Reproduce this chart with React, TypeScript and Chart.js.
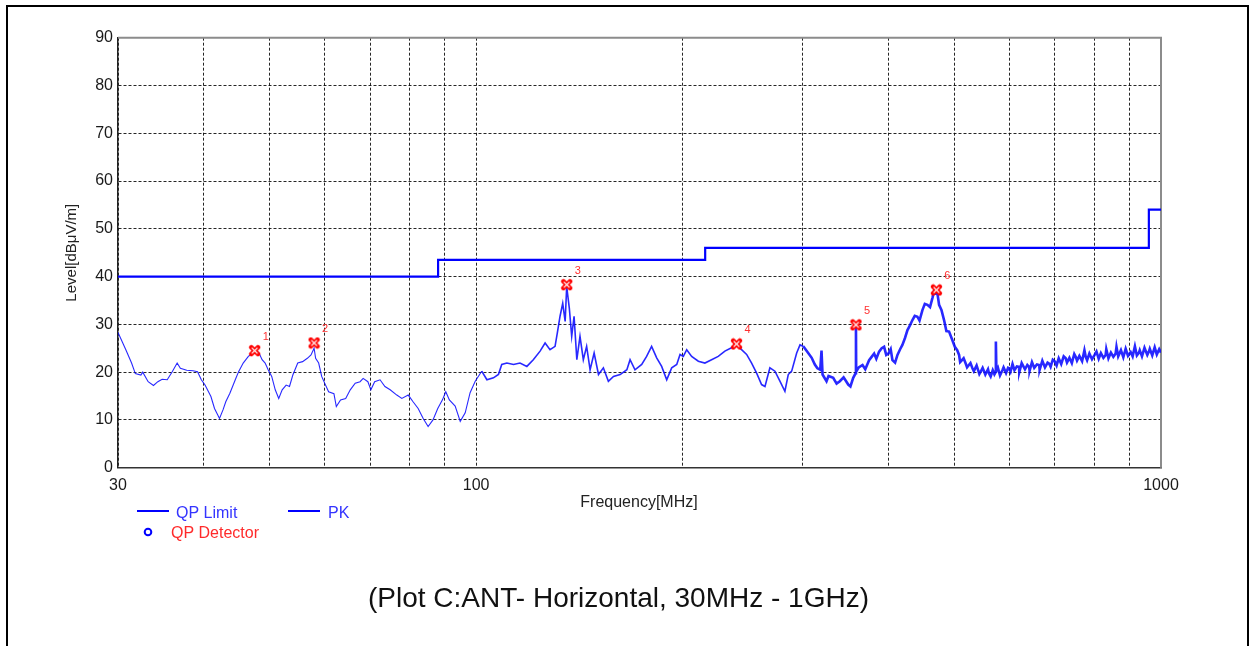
import React, { useEffect, useRef } from "react";
import { Chart, registerables } from "chart.js";

Chart.register(...registerables);

const FONT = "'Liberation Sans', Arial, sans-serif";

// Limit line (QP Limit), stepped
const LIMIT_FREQ = [30, 88, 216, 960, 1000];
const LIMIT_LEVEL = [40, 43.5, 46, 54, 54];

// Peak trace (PK) main readings
const PK_FREQ = [
  30.0, 30.8, 31.4, 31.8, 32.4, 32.6, 33.2, 33.8, 34.3, 34.8, 35.4, 36.0, 36.6, 37.0, 37.8, 38.6, 39.2, 39.7,
  40.2, 41.0, 41.5, 42.2, 42.7, 43.1, 43.7, 44.5, 45.0, 45.7, 46.5, 47.2, 47.7, 48.2, 48.7, 49.2, 49.7,
  50.3, 50.9, 51.5, 52.1, 52.8, 53.4, 54.0, 54.9, 55.8, 56.7, 57.4, 58.0, 58.3, 58.9, 59.5,
  60.1, 60.9, 62.0, 62.5, 63.4, 64.5, 65.5, 66.6, 67.7, 68.4, 69.5, 70.2, 71.1, 72.4, 73.6, 74.9,
  76.6, 77.9, 79.6, 80.9, 82.3, 83.7, 85.1, 86.5, 87.9, 89.3, 90.3, 91.4, 93.2, 94.8, 96.4, 98.0, 99.7,
  101.9, 103.7, 106.0, 107.8, 109.0, 110.9, 113.4, 115.9, 118.6, 121.2, 124.0, 126.1, 128.2, 130.4,
  131.4, 132.6, 133.8, 134.9, 135.6, 136.8, 137.9, 139.0, 140.3, 141.8, 143.4, 145.0, 146.7, 148.7,
  150.9, 153.4, 156.0, 158.7, 162.3, 166.0, 167.8, 170.6, 174.5, 177.4, 180.4, 183.5, 186.6, 189.8,
  193.0, 196.3, 198.5, 200.7, 203.0, 206.4, 211.1, 215.8, 220.7, 225.7, 230.8, 236.0, 240.0, 244.1,
  248.3, 252.5, 256.8, 261.1, 264.1, 268.5, 273.1, 277.7, 282.4, 285.6, 288.9, 293.8, 297.1, 300.4,
  305.4, 312.3, 318.0, 319.4, 320.5, 324.8, 332.2, 339.7, 349.4, 355.3, 358.3, 358.6, 358.9, 366.6,
  374.8, 381.2, 387.6, 394.2, 400.0, 405.4, 412.3, 419.2, 426.4, 433.6, 440.9, 448.4, 456.0, 463.7,
  468.9, 471.0, 474.2, 482.2, 490.4, 500.0, 507.2, 518.6, 530.5, 545.5, 561.0, 573.0, 574.0, 575.0,
  586.7, 600.0, 620.5, 641.7, 663.8, 686.5, 700.0, 725.9, 750.7, 776.4, 800.0, 830.2, 858.6, 900.0,
  928.6, 960.1, 1000,
];
const PK_LEVEL = [
  28.3, 24.7, 21.9, 19.7, 19.4, 20.0, 18.0, 17.2, 18.0, 18.5, 18.4, 20.1, 21.9, 20.8, 20.4, 20.3, 20.1, 18.4,
  17.3, 14.9, 12.4, 10.3, 12.1, 13.8, 15.6, 18.4, 20.1, 21.9, 23.3, 24.0, 24.5, 24.0, 22.6, 21.9, 20.5,
  19.1, 16.3, 14.5, 16.3, 17.3, 17.0, 19.4, 21.9, 22.2, 22.9, 23.6, 25.0, 22.9, 21.9, 19.1,
  17.7, 15.9, 15.5, 12.8, 14.2, 14.5, 16.3, 17.7, 18.0, 18.7, 18.0, 16.3, 18.0, 18.4, 17.0, 16.3,
  15.2, 14.5, 15.2, 13.8, 12.4, 10.3, 8.6, 10.0, 12.4, 14.2, 15.9, 14.2, 12.9, 9.7, 11.5, 15.7, 18.1,
  20.2, 18.4, 18.8, 19.5, 21.6, 21.9, 21.6, 21.9, 21.2, 22.6, 24.4, 26.1, 24.7, 25.4,
  28.2, 31.7, 34.4, 30.6, 37.9, 33.4, 27.5, 31.7, 22.6, 27.5, 22.6, 25.4, 20.5, 24.0,
  19.5, 20.9, 18.1, 19.1, 19.5, 20.5, 22.6, 20.5, 21.6, 23.3, 25.4, 23.0, 21.2, 18.4,
  20.9, 21.6, 23.7, 23.3, 24.7, 23.3, 22.3, 21.9, 22.6, 23.3, 24.4, 25.1, 25.7, 24.7,
  23.7, 21.9, 19.8, 17.4, 17.0, 20.9, 20.2, 18.1, 16.0, 19.5, 20.2, 24.0, 25.7, 25.4,
  24.0, 21.6, 20.5, 24.5, 19.5, 18.1, 18.8, 18.1, 17.4, 18.8, 19.8, 29.6, 20.1, 21.5,
  22.5, 23.9, 24.3, 25.3, 23.9, 22.5, 23.6, 25.7, 28.8, 30.9, 31.6, 33.0, 34.1, 35.5,
  36.5, 37.0, 34.1, 30.9, 28.5, 25.3, 23.6, 21.8, 20.8, 20.1, 19.7, 20.1, 26.4, 20.3,
  20.4, 20.8, 21.1, 21.1, 21.5, 21.8, 22.2, 22.9, 23.2, 23.2, 23.6, 23.6, 23.9, 23.9,
  24.1, 24.3, 24.1,
];

// Extra readings of the noisy band (300 MHz – 1 GHz)
const PK_DETAIL_FREQ = [
  309, 315, 327, 336, 344, 352, 362, 370, 378, 384, 391, 397,
  403, 409, 416, 423, 430, 437, 444, 452, 460, 466, 478, 486, 495,
  504, 509, 515, 521, 527, 533, 538, 543, 549, 554, 559, 564, 568, 571, 578, 582, 589, 594, 598,
  603, 607, 611, 616, 621, 626, 633, 638, 643, 648, 653, 659, 665, 671, 677, 683, 690, 695,
  704, 709, 715, 721, 729, 735, 741, 747, 754, 760, 767, 773, 780, 786, 793,
  805, 811, 817, 824, 832, 838, 845, 852, 861, 866, 874, 881, 888, 895, 903, 909, 916, 922, 931, 938,
  946, 955, 963, 971, 979, 986, 994,
];
const PK_DETAIL_LEVEL = [
  23.0, 20.8, 19.2, 17.6, 18.9, 17.0, 21.0, 20.6, 23.2, 22.8, 25.0, 23.6,
  24.8, 22.0, 24.8, 27.2, 29.8, 31.8, 30.8, 34.3, 33.6, 36.8, 33.0, 28.6, 27.0,
  24.6, 22.1, 22.9, 21.0, 21.9, 20.2, 21.4, 19.6, 20.9, 19.5, 20.6, 19.1, 20.4, 19.6, 20.9, 19.3, 21.0, 19.8, 20.9,
  20.1, 21.7, 20.4, 21.2, 20.0, 21.9, 20.6, 21.5, 20.3, 22.1, 20.9, 21.6, 20.5, 22.4, 21.0, 22.0, 21.1, 22.6,
  21.4, 22.9, 21.7, 23.3, 22.0, 23.0, 21.9, 23.8, 22.4, 23.4, 22.3, 24.6, 22.5, 23.9, 22.7,
  24.3, 22.8, 24.0, 23.0, 24.8, 22.9, 24.1, 23.2, 25.3, 23.3, 24.6, 23.1, 24.9, 23.4, 24.2, 23.3, 25.4, 23.5, 24.6, 23.3,
  25.1, 23.6, 24.9, 23.5, 25.2, 23.7, 24.8,
];

// Marked peaks (QP detector markers)
const MARKER_FREQ = [47.5, 58.0, 135.6, 240.0, 358.6, 470.0];
const MARKER_LEVEL = [24.5, 26.1, 38.3, 25.9, 29.9, 37.2];
const MARKER_LABELS = ["1", "2", "3", "4", "5", "6"];

// Axis ticks
const X_GRID = [30, 40, 50, 60, 70, 80, 90, 100, 200, 300, 400, 500, 600, 700, 800, 900, 1000];
const X_LABELED = [30, 100, 1000];
const Y_MIN = 0;
const Y_MAX = 90;
const Y_STEP = 10;

const X_TITLE = "Frequency[MHz]";
const Y_TITLE = "Level[dBμV/m]";
const CAPTION = "(Plot C:ANT- Horizontal, 30MHz - 1GHz)";
const LEGEND_LIMIT = "QP Limit";
const LEGEND_PK = "PK";
const LEGEND_QP = "QP Detector";

function makeMarkerImage(): HTMLCanvasElement {
  const mk = document.createElement("canvas");
  mk.width = 13;
  mk.height = 13;
  const c = mk.getContext("2d")!;
  c.strokeStyle = "#ff0000";
  c.lineWidth = 4.6;
  c.lineCap = "round";
  c.beginPath();
  c.moveTo(3.2, 3.2);
  c.lineTo(9.8, 9.8);
  c.moveTo(9.8, 3.2);
  c.lineTo(3.2, 9.8);
  c.stroke();
  c.strokeStyle = "#ffffff";
  c.lineWidth = 1.3;
  c.lineCap = "butt";
  c.beginPath();
  c.moveTo(3.6, 3.6);
  c.lineTo(9.4, 9.4);
  c.moveTo(9.4, 3.6);
  c.lineTo(3.6, 9.4);
  c.stroke();
  return mk;
}

export default function App() {
  const ref = useRef<HTMLCanvasElement>(null);

  useEffect(() => {
    const canvas = ref.current!;
    Chart.defaults.font.family = FONT;

    const pkPoints = PK_FREQ.map((f, i) => ({ x: f, y: PK_LEVEL[i] }))
      .concat(PK_DETAIL_FREQ.map((f, i) => ({ x: f, y: PK_DETAIL_LEVEL[i] })))
      .sort((a, b) => a.x - b.x);
    const limitPoints = LIMIT_FREQ.map((f, i) => ({ x: f, y: LIMIT_LEVEL[i] }));
    const markerPoints = MARKER_FREQ.map((f, i) => ({ x: f, y: MARKER_LEVEL[i] }));
    const markerImg = makeMarkerImage();

    const decor = {
      id: "decor",
      beforeDatasetsDraw(chart: any) {
        const { ctx, chartArea: a } = chart;
        ctx.save();
        ctx.strokeStyle = "#8c8c8c";
        ctx.lineWidth = 2;
        ctx.beginPath();
        ctx.moveTo(a.left, a.top);
        ctx.lineTo(a.right, a.top);
        ctx.lineTo(a.right, a.bottom);
        ctx.stroke();
        ctx.restore();
      },
      afterDraw(chart: any) {
        const { ctx, chartArea: a } = chart;
        ctx.save();
        // outer frame
        ctx.strokeStyle = "#000";
        ctx.lineWidth = 2;
        ctx.beginPath();
        ctx.moveTo(7, 650);
        ctx.lineTo(7, 6);
        ctx.lineTo(1248, 6);
        ctx.lineTo(1248, 650);
        ctx.stroke();

        // y title
        ctx.save();
        ctx.translate(72, (a.top + a.bottom) / 2);
        ctx.rotate(-Math.PI / 2);
        ctx.font = `15px ${FONT}`;
        ctx.fillStyle = "#222";
        ctx.textAlign = "center";
        ctx.textBaseline = "middle";
        ctx.fillText(Y_TITLE, 0, 0);
        ctx.restore();

        // x title
        ctx.font = `16px ${FONT}`;
        ctx.fillStyle = "#222";
        ctx.textAlign = "center";
        ctx.textBaseline = "alphabetic";
        ctx.fillText(X_TITLE, 639, 507);

        // legend
        ctx.strokeStyle = "#0000ff";
        ctx.lineWidth = 2;
        ctx.beginPath();
        ctx.moveTo(137, 511);
        ctx.lineTo(169, 511);
        ctx.moveTo(288, 511);
        ctx.lineTo(320, 511);
        ctx.stroke();
        ctx.beginPath();
        ctx.arc(148, 532, 3.3, 0, Math.PI * 2);
        ctx.stroke();
        ctx.textAlign = "left";
        ctx.font = `16px ${FONT}`;
        ctx.fillStyle = "#3434ff";
        ctx.fillText(LEGEND_LIMIT, 176, 518);
        ctx.fillText(LEGEND_PK, 328, 518);
        ctx.fillStyle = "#ff2a2a";
        ctx.fillText(LEGEND_QP, 171, 538);

        // marker labels
        const meta = chart.getDatasetMeta(0);
        ctx.font = `11px ${FONT}`;
        ctx.fillStyle = "#ff3030";
        ctx.textAlign = "center";
        ctx.textBaseline = "middle";
        meta.data.forEach((el: any, i: number) => {
          ctx.fillText(MARKER_LABELS[i], el.x + 11, el.y - 14);
        });

        // caption
        ctx.font = `28px ${FONT}`;
        ctx.fillStyle = "#111";
        ctx.textAlign = "center";
        ctx.textBaseline = "alphabetic";
        ctx.fillText(CAPTION, 618.5, 607);
        ctx.restore();
      },
    };

    const chart = new Chart(canvas, {
      type: "line",
      data: {
        datasets: [
          {
            label: "Markers",
            data: markerPoints,
            showLine: false,
            pointStyle: markerImg as any,
            pointRadius: 6,
            borderColor: "#ff0000",
            backgroundColor: "#ff0000",
          },
          {
            label: LEGEND_PK,
            data: pkPoints,
            borderColor: "rgba(10,10,255,0.88)",
            borderWidth: 1.1,
            pointRadius: 0,
            tension: 0,
            segment: {
              borderWidth: (c: any) => (c.p0.parsed.x >= 300 ? 2.6 : c.p0.parsed.x >= 100 ? 1.6 : 1.1),
            } as any,
          },
          {
            label: LEGEND_LIMIT,
            data: limitPoints,
            borderColor: "#0000ff",
            borderWidth: 2.2,
            pointRadius: 0,
            stepped: true,
          },
        ],
      },
      options: {
        animation: false,
        responsive: false,
        devicePixelRatio: 1,
        events: [],
        layout: { padding: { left: 0, right: 89, top: 37.7, bottom: 0 } },
        plugins: { legend: { display: false }, tooltip: { enabled: false }, title: { display: false } },
        scales: {
          x: {
            type: "logarithmic",
            min: 30,
            max: 1000,
            afterBuildTicks: (s: any) => {
              s.ticks = X_GRID.map((v) => ({ value: v }));
            },
            afterFit: (s: any) => {
              s.height = 646 - 467.7;
            },
            ticks: {
              autoSkip: false,
              maxRotation: 0,
              padding: 8,
              color: "#1a1a1a",
              font: { size: 16, family: FONT },
              callback: (v: any) => (X_LABELED.includes(Number(v)) ? String(v) : ""),
            },
            grid: { color: "rgba(0,0,0,0.85)", lineWidth: 1, drawTicks: false },
            border: { display: true, color: "#333", width: 1.5, dash: [3, 2] },
          },
          y: {
            type: "linear",
            min: Y_MIN,
            max: Y_MAX,
            afterFit: (s: any) => {
              s.width = 118;
            },
            ticks: {
              stepSize: Y_STEP,
              padding: 5,
              color: "#1a1a1a",
              font: { size: 16, family: FONT },
            },
            grid: { color: "rgba(0,0,0,0.85)", lineWidth: 1, drawTicks: false },
            border: { display: true, color: "#222", width: 1.5, dash: [3, 2] },
          },
        },
      },
      plugins: [decor as any],
    });

    return () => chart.destroy();
  }, []);

  return (
    <div style={{ position: "absolute", left: 0, top: 0, width: 1250, height: 646, overflow: "hidden", background: "#fff" }}>
      <canvas ref={ref} width={1250} height={646} style={{ position: "absolute", left: 0, top: 0, width: 1250, height: 646 }} />
    </div>
  );
}
